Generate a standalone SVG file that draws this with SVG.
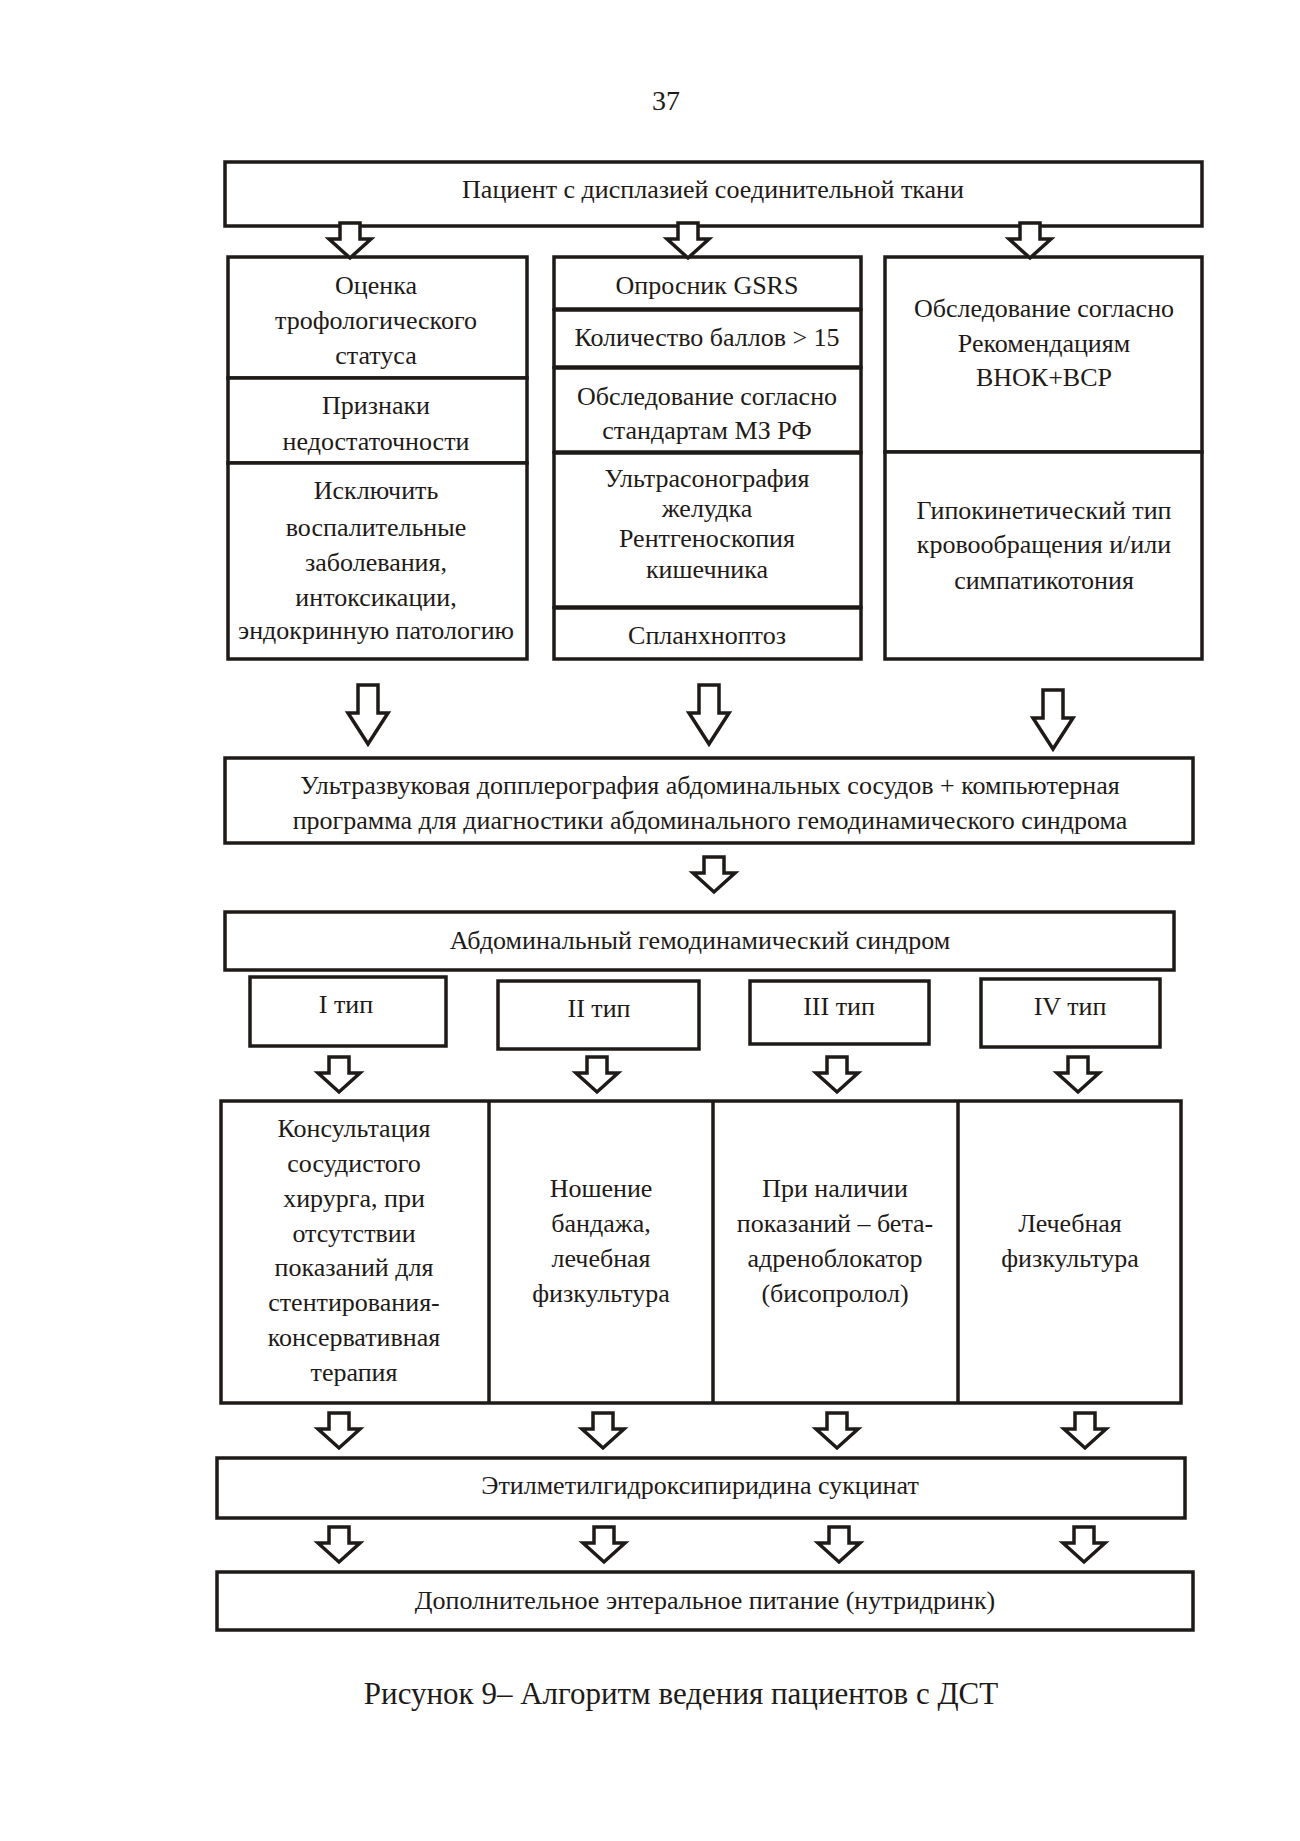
<svg xmlns="http://www.w3.org/2000/svg" xmlns:xlink="http://www.w3.org/1999/xlink" width="1300" height="1841" viewBox="0 0 1300 1841">
<style>
.b{fill:#fff;stroke:#1e1a17;stroke-width:3.5}
.t{font-family:"Liberation Serif","Times New Roman",serif;font-size:26px;fill:#1e1a17;text-anchor:middle}
.ar{fill:#fff;stroke:#1e1a17;stroke-width:3.5;stroke-linejoin:miter}
</style>
<defs>
<path id="sa" d="M -10 0 L 10 0 L 10 16 L 21 16 L 0 35 L -21 16 L -10 16 Z"/>
<path id="ba" d="M -10 0 L 10 0 L 10 28 L 20 28 L 0 59 L -20 28 L -10 28 Z"/>
</defs>
<rect width="1300" height="1841" fill="#fff"/>
<text class="t" x="666" y="110" style="font-size:28px">37</text>

<g id="n_patient">
<rect class="b" x="225" y="162" width="977" height="64"/>
<text class="t" x="713" y="198">Пациент с дисплазией соединительной ткани</text>
</g>

<g id="n_left">
<rect class="b" x="228" y="257" width="299" height="121"/>
<text class="t" x="376" y="294">Оценка</text>
<text class="t" x="376" y="329">трофологического</text>
<text class="t" x="376" y="364">статуса</text>
<rect class="b" x="228" y="378" width="299" height="85"/>
<text class="t" x="376" y="414">Признаки</text>
<text class="t" x="376" y="450">недостаточности</text>
<rect class="b" x="228" y="463" width="299" height="196"/>
<text class="t" x="376" y="499">Исключить</text>
<text class="t" x="376" y="536">воспалительные</text>
<text class="t" x="376" y="571">заболевания,</text>
<text class="t" x="376" y="606">интоксикации,</text>
<text class="t" x="376" y="639">эндокринную патологию</text>
</g>

<g id="n_mid">
<rect class="b" x="554" y="257" width="307" height="52"/>
<text class="t" x="707" y="294">Опросник GSRS</text>
<rect class="b" x="554" y="310" width="307" height="57"/>
<text class="t" x="707" y="346">Количество баллов &gt; 15</text>
<rect class="b" x="554" y="368" width="307" height="84"/>
<text class="t" x="707" y="405">Обследование согласно</text>
<text class="t" x="707" y="439">стандартам МЗ РФ</text>
<rect class="b" x="554" y="453" width="307" height="154"/>
<text class="t" x="707" y="487">Ультрасонография</text>
<text class="t" x="707" y="517">желудка</text>
<text class="t" x="707" y="547">Рентгеноскопия</text>
<text class="t" x="707" y="578">кишечника</text>
<rect class="b" x="554" y="608" width="307" height="51"/>
<text class="t" x="707" y="644">Спланхноптоз</text>
</g>

<g id="n_right">
<rect class="b" x="885" y="257" width="317" height="195"/>
<text class="t" x="1044" y="317">Обследование согласно</text>
<text class="t" x="1044" y="352">Рекомендациям</text>
<text class="t" x="1044" y="386">ВНОК+ВСР</text>
<rect class="b" x="885" y="452" width="317" height="207"/>
<text class="t" x="1044" y="519">Гипокинетический тип</text>
<text class="t" x="1044" y="553">кровообращения и/или</text>
<text class="t" x="1044" y="589">симпатикотония</text>
</g>

<g id="n_doppler">
<rect class="b" x="225" y="758" width="968" height="85"/>
<text class="t" x="710" y="794">Ультразвуковая допплерография абдоминальных сосудов + компьютерная</text>
<text class="t" x="710" y="829">программа для диагностики абдоминального гемодинамического синдрома</text>
</g>

<g id="n_ags">
<rect class="b" x="225" y="912" width="949" height="58"/>
<text class="t" x="700" y="949">Абдоминальный гемодинамический синдром</text>
</g>

<g id="n_t1"><rect class="b" x="250" y="977" width="196" height="69"/><text class="t" x="346" y="1013">I тип</text></g>
<g id="n_t2"><rect class="b" x="498" y="981" width="201" height="68"/><text class="t" x="599" y="1017">II тип</text></g>
<g id="n_t3"><rect class="b" x="750" y="981" width="179" height="63"/><text class="t" x="839" y="1015">III тип</text></g>
<g id="n_t4"><rect class="b" x="981" y="979" width="179" height="68"/><text class="t" x="1070" y="1015">IV тип</text></g>

<g id="n_treat">
<rect class="b" x="221" y="1101" width="960" height="302"/>
<line x1="489" y1="1101" x2="489" y2="1403" stroke="#1e1a17" stroke-width="3.5"/>
<line x1="713" y1="1101" x2="713" y2="1403" stroke="#1e1a17" stroke-width="3.5"/>
<line x1="958" y1="1101" x2="958" y2="1403" stroke="#1e1a17" stroke-width="3.5"/>
<text class="t" x="354" y="1137">Консультация</text>
<text class="t" x="354" y="1172">сосудистого</text>
<text class="t" x="354" y="1207">хирурга, при</text>
<text class="t" x="354" y="1242">отсутствии</text>
<text class="t" x="354" y="1276">показаний для</text>
<text class="t" x="354" y="1311">стентирования-</text>
<text class="t" x="354" y="1346">консервативная</text>
<text class="t" x="354" y="1381">терапия</text>
<text class="t" x="601" y="1197">Ношение</text>
<text class="t" x="601" y="1232">бандажа,</text>
<text class="t" x="601" y="1267">лечебная</text>
<text class="t" x="601" y="1302">физкультура</text>
<text class="t" x="835" y="1197">При наличии</text>
<text class="t" x="835" y="1232">показаний – бета-</text>
<text class="t" x="835" y="1267">адреноблокатор</text>
<text class="t" x="835" y="1302">(бисопролол)</text>
<text class="t" x="1070" y="1232">Лечебная</text>
<text class="t" x="1070" y="1267">физкультура</text>
</g>

<g id="n_ethyl">
<rect class="b" x="217" y="1458" width="968" height="60"/>
<text class="t" x="700" y="1494">Этилметилгидроксипиридина сукцинат</text>
</g>

<g id="n_nutri">
<rect class="b" x="217" y="1572" width="976" height="58"/>
<text class="t" x="705" y="1609">Дополнительное энтеральное питание (нутридринк)</text>
</g>

<g id="connectors">
<use xlink:href="#sa" class="ar" x="350" y="223"/>
<use xlink:href="#sa" class="ar" x="688" y="223"/>
<use xlink:href="#sa" class="ar" x="1030" y="223"/>
<use xlink:href="#ba" class="ar" x="368" y="685"/>
<use xlink:href="#ba" class="ar" x="709" y="685"/>
<use xlink:href="#ba" class="ar" x="1053" y="690"/>
<use xlink:href="#sa" class="ar" x="714" y="857"/>
<use xlink:href="#sa" class="ar" x="339" y="1057"/>
<use xlink:href="#sa" class="ar" x="597" y="1057"/>
<use xlink:href="#sa" class="ar" x="837" y="1057"/>
<use xlink:href="#sa" class="ar" x="1078" y="1057"/>
<use xlink:href="#sa" class="ar" x="339" y="1413"/>
<use xlink:href="#sa" class="ar" x="603" y="1413"/>
<use xlink:href="#sa" class="ar" x="837" y="1413"/>
<use xlink:href="#sa" class="ar" x="1085" y="1413"/>
<use xlink:href="#sa" class="ar" x="339" y="1527"/>
<use xlink:href="#sa" class="ar" x="604" y="1527"/>
<use xlink:href="#sa" class="ar" x="839" y="1527"/>
<use xlink:href="#sa" class="ar" x="1084" y="1527"/>
</g>

<text class="t" x="681" y="1704" style="font-size:31px">Рисунок 9– Алгоритм ведения пациентов с ДСТ</text>
</svg>
